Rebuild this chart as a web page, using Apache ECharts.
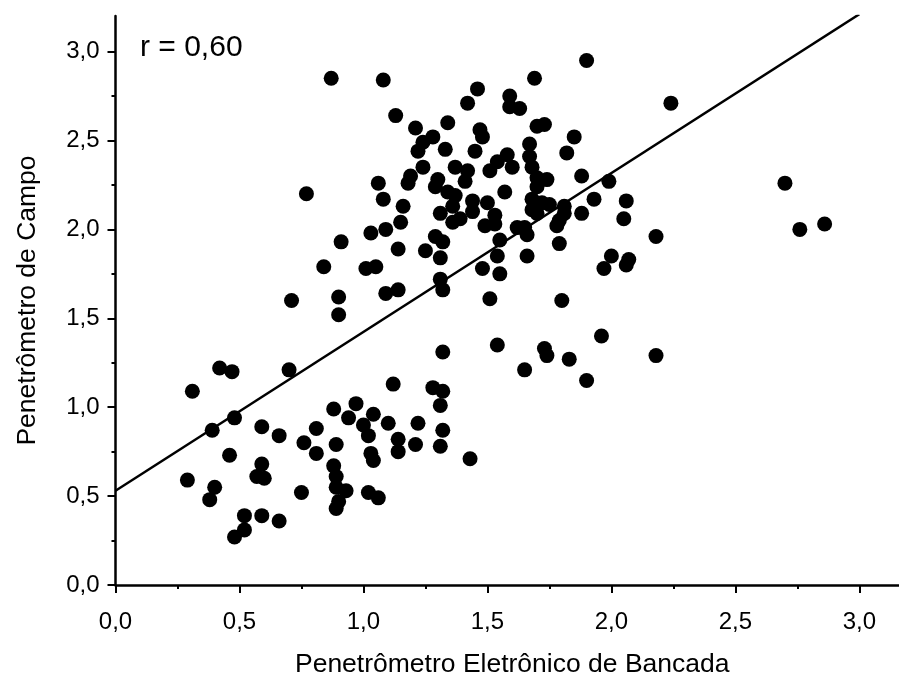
<!DOCTYPE html>
<html><head><meta charset="utf-8">
<script src="https://cdn.jsdelivr.net/npm/echarts@6/dist/echarts.min.js"></script>
<style>html,body{margin:0;padding:0;background:#fff}#c{width:899px;height:684px}</style>
</head><body><div id="c"></div>
<script>
// Bench penetrometer (x) values
const benchX = [
  0.87,1.08,1.13,0.77,1.06,1.08,1.16,1.15,1.09,1.03,1.14,0.91,0.84,1.01,1.05,0.71,0.90,1.09,1.14,0.90,
  1.46,1.42,1.34,1.21,1.47,1.48,1.28,1.24,1.33,1.22,1.45,1.24,1.19,1.18,1.37,1.42,1.41,1.51,1.30,1.29,
  1.34,1.37,1.36,1.44,1.44,1.50,1.31,1.36,1.39,1.53,1.49,1.53,1.55,1.25,1.29,1.32,1.31,1.31,1.32,
  1.90,1.69,1.59,1.59,1.63,2.24,1.70,1.73,1.85,1.82,1.67,1.67,1.58,1.54,1.60,1.68,1.70,1.74,1.70,1.88,
  1.99,1.57,1.68,1.68,1.72,1.75,1.70,1.93,2.06,2.05,1.81,1.81,1.79,1.88,1.78,1.62,1.65,1.66,1.79,2.18,
  1.54,1.66,2.00,1.97,2.07,2.06,1.48,1.55,1.51,1.80,
  0.42,0.47,0.31,0.70,1.12,0.48,0.39,0.59,0.66,0.81,0.88,0.97,0.94,1.00,1.02,1.04,1.10,1.14,1.14,0.76,
  0.81,0.89,0.46,0.59,0.57,0.60,0.88,0.89,0.89,0.93,1.03,1.04,0.29,0.40,0.38,0.75,1.02,1.06,0.90,0.89,
  0.52,0.52,0.48,0.59,0.66,1.22,1.28,1.32,1.31,1.32,1.21,1.31,1.43,1.32,1.54,1.73,1.74,1.83,1.96,2.18,
  1.65,1.90,2.70,2.76,2.86
];
// Field penetrometer (y) values
const fieldY = [
  2.85,2.84,2.64,2.20,2.26,2.17,2.13,2.04,2.00,1.98,1.89,1.93,1.79,1.78,1.79,1.60,1.62,1.64,1.66,1.52,
  2.79,2.71,2.60,2.57,2.56,2.52,2.52,2.49,2.45,2.44,2.44,2.35,2.30,2.26,2.35,2.33,2.27,2.33,2.28,2.24,
  2.21,2.19,2.13,2.16,2.10,2.15,2.09,2.04,2.06,2.08,2.02,2.03,1.94,1.88,1.96,1.93,1.84,1.72,1.66,
  2.95,2.85,2.75,2.69,2.68,2.71,2.58,2.59,2.52,2.43,2.48,2.41,2.42,2.38,2.35,2.35,2.29,2.28,2.24,2.30,
  2.27,2.21,2.17,2.11,2.15,2.14,2.09,2.17,2.16,2.06,2.13,2.09,2.05,2.09,2.02,2.01,2.01,1.97,1.92,1.96,
  1.85,1.85,1.85,1.78,1.83,1.80,1.78,1.75,1.61,1.60,
  1.22,1.20,1.09,1.21,1.13,0.94,0.87,0.89,0.84,0.88,0.99,1.02,0.94,0.90,0.84,0.96,0.91,0.82,0.75,0.80,
  0.74,0.79,0.73,0.68,0.61,0.60,0.67,0.61,0.55,0.53,0.74,0.70,0.59,0.55,0.48,0.52,0.52,0.49,0.47,0.43,
  0.39,0.31,0.27,0.39,0.36,0.91,1.11,1.09,1.01,0.87,0.79,0.78,0.71,1.31,1.35,1.33,1.29,1.27,1.40,1.29,
  1.21,1.15,2.26,2.00,2.03
];
// Regression line end points
const regX = [0, 3.0];
const regY = [0.53, 3.21];
// Tick values
const majorTicks = [0, 0.5, 1.0, 1.5, 2.0, 2.5, 3.0];
const minorTicks = [0.25, 0.75, 1.25, 1.75, 2.25, 2.75];
const annotation = 'r = 0,60';
const xTitle = 'Penetrômetro Eletrônico de Bancada';
const yTitle = 'Penetrômetro de Campo';

const points = benchX.map((x, i) => [x, fieldY[i]]);
const regLine = regX.map((x, i) => [x, regY[i]]);
const FONT = '"Liberation Sans", Arial, sans-serif';
const fmt = v => v.toFixed(1).replace('.', ',');

const chart = echarts.init(document.getElementById('c'), null, {renderer: 'canvas'});
const gridPos = {left: 115.5, right: 0, top: 16, bottom: 99, containLabel: false};
const XMAX = 3.16, YMAX = 3.2;
chart.setOption({
  animation: false,
  backgroundColor: '#fff',
  grid: [Object.assign({}, gridPos), Object.assign({}, gridPos)],
  xAxis: [{
    type: 'value', gridIndex: 0, min: 0, max: XMAX, interval: 0.5,
    splitLine: {show: false},
    axisLine: {show: true, onZero: false, lineStyle: {color: '#000', width: 2.5}},
    axisTick: {show: true, customValues: majorTicks, length: 8, lineStyle: {color: '#000', width: 2}},
    axisLabel: {customValues: majorTicks, formatter: fmt, color: '#000', fontFamily: FONT, fontSize: 24, margin: 25},
    name: xTitle, nameLocation: 'middle', nameGap: 66,
    nameTextStyle: {color: '#000', fontFamily: FONT, fontSize: 26.5, padding: [0, 0, 0, 10]}
  }, {
    type: 'value', gridIndex: 1, min: 0, max: XMAX,
    splitLine: {show: false}, axisLine: {show: false},
    axisTick: {show: true, customValues: minorTicks, length: 4, lineStyle: {color: '#000', width: 2}},
    axisLabel: {show: false}
  }],
  yAxis: [{
    type: 'value', gridIndex: 0, min: 0, max: YMAX, interval: 0.5,
    splitLine: {show: false},
    axisLine: {show: true, onZero: false, lineStyle: {color: '#000', width: 2.5}},
    axisTick: {show: true, customValues: majorTicks, length: 8, lineStyle: {color: '#000', width: 2}},
    axisLabel: {customValues: majorTicks, formatter: fmt, color: '#000', fontFamily: FONT, fontSize: 24, margin: 16},
    name: yTitle, nameLocation: 'middle', nameGap: 74,
    nameTextStyle: {color: '#000', fontFamily: FONT, fontSize: 26.5}
  }, {
    type: 'value', gridIndex: 1, min: 0, max: YMAX,
    splitLine: {show: false}, axisLine: {show: false},
    axisTick: {show: true, customValues: minorTicks, length: 4, lineStyle: {color: '#000', width: 2}},
    axisLabel: {show: false}
  }],
  graphic: [{
    type: 'text', left: 140, top: 33,
    style: {text: annotation, font: '30px ' + FONT, fill: '#000'}
  }],
  series: [{
    type: 'line', xAxisIndex: 0, yAxisIndex: 0, data: regLine, symbol: 'none',
    lineStyle: {color: '#000', width: 2.5}, z: 3
  }, {
    type: 'scatter', xAxisIndex: 0, yAxisIndex: 0, data: points, symbol: 'circle', symbolSize: 15,
    itemStyle: {color: '#000', opacity: 1}, z: 2
  }]
});
</script>
</body></html>
